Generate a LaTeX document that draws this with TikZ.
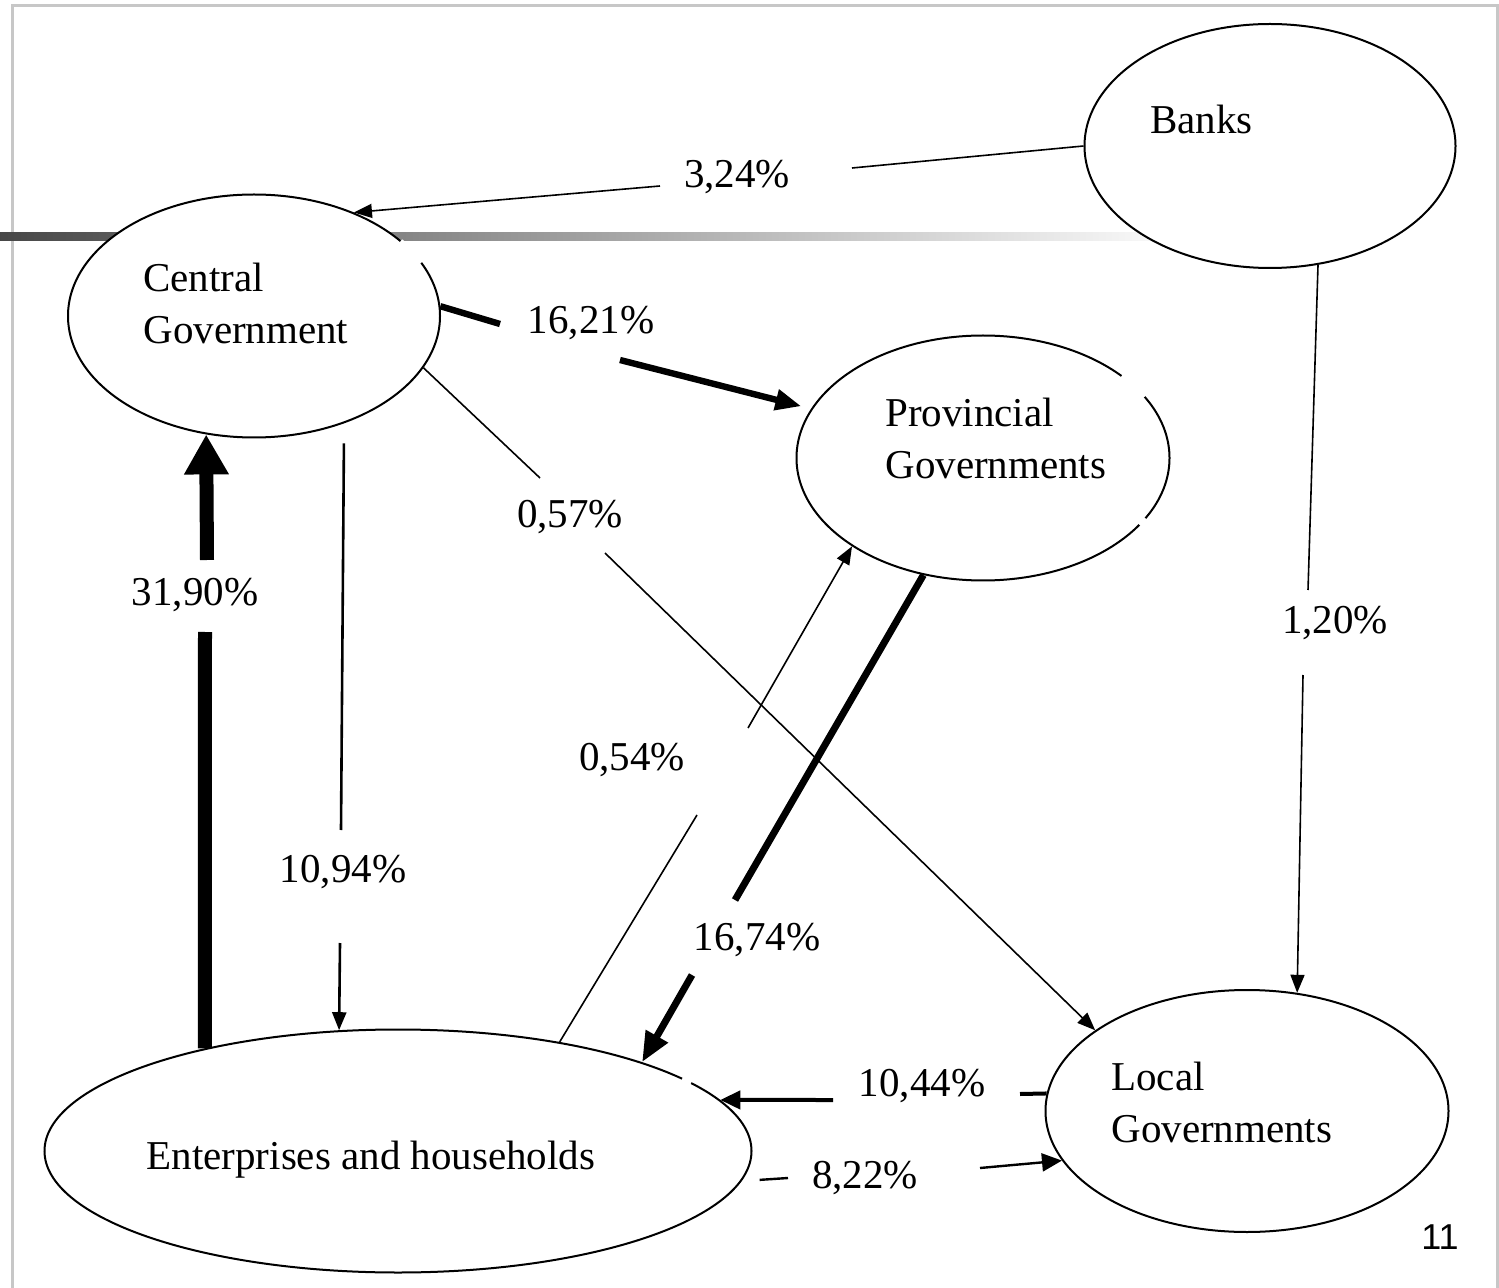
\documentclass[tikz,border=0pt]{standalone}
\usepackage{fontspec}
\setmainfont{Liberation Serif}
\newfontfamily\slidenumfont{Liberation Sans}
\usetikzlibrary{arrows.meta,shapes.geometric}

\begin{document}
\begin{tikzpicture}[x=0.5pt,y=-0.5pt,
  sector/.style={ellipse, draw, fill=white, line width=1pt, inner sep=0pt},
  sectortext/.style={font=\fontsize{20.5}{26}\selectfont, align=left, anchor=west, inner sep=0pt},
  pct/.style={font=\fontsize{20.5}{24}\selectfont, inner sep=0pt},
  ellgap/.style={white, line width=2.5pt}]
\useasboundingbox (0,0) rectangle (1499,1288);
\draw[black!22, line width=1.5pt] (12,6) rectangle (1497,1330);
\shade[left color=black!72, right color=black!3] (0,233) rectangle (1150,241);
\node[sector, minimum width=185.5pt, minimum height=122pt] (banks) at (1270,146) {};
\node[sector, minimum width=186pt, minimum height=121.5pt] (central) at (254,316) {};
\node[sector, minimum width=186.5pt, minimum height=122.5pt] (prov) at (983,458) {};
\node[sector, minimum width=353.5pt, minimum height=121.5pt] (ent) at (398,1151) {};
\node[sector, minimum width=201.5pt, minimum height=121pt] (local) at (1247,1111) {};
\draw[ellgap] (central.center) ++(26:93pt and 60.75pt) arc[start angle=26, end angle=38, x radius=93pt, y radius=60.75pt];
\draw[ellgap] (prov.center) ++(30:93.25pt and 61.25pt) arc[start angle=30, end angle=42, x radius=93.25pt, y radius=61.25pt];
\draw[ellgap] (prov.center) ++(-33:93.25pt and 61.25pt) arc[start angle=-33, end angle=-29.5, x radius=93.25pt, y radius=61.25pt];
\draw[ellgap] (ent.center) ++(34:176.75pt and 60.75pt) arc[start angle=34, end angle=36.5, x radius=176.75pt, y radius=60.75pt];
\node[sectortext] (banksname) at (1150,119) {Banks};
\node[sectortext] (centralname) at (143,303) {Central\\Government};
\node[sectortext] (provname) at (885,438) {Provincial\\Governments};
\node[sectortext] (localname) at (1111,1102) {Local\\Governments};
\node[sectortext, anchor=center] (entname) at (371,1160) {Enterprises and households};
\node[pct] (p324) at (737,177) {3,24\%};
\node[pct] (p1621) at (591,323) {16,21\%};
\node[pct] (p057) at (570,517) {0,57\%};
\node[pct] (p3190) at (195,595) {31,90\%};
\node[pct] (p1094) at (343,872) {10,94\%};
\node[pct] (p054) at (632,760) {0,54\%};
\node[pct] (p1674) at (757,940) {16,74\%};
\node[pct] (p120) at (1335,623) {1,20\%};
\node[pct] (p1044) at (922,1086) {10,44\%};
\node[pct] (p822) at (865,1178) {8,22\%};
\node[font=\slidenumfont\fontsize{18}{20}\selectfont] (slidenum) at (1440,1237) {11};
\coordinate (c324a) at (852,168);
\coordinate (c324b) at (660,186);
\coordinate (c1621a) at (500,324);
\coordinate (c1621b) at (620,360);
\coordinate (c057a) at (540,478);
\coordinate (c057b) at (605,553);
\coordinate (c3190a) at (205,632);
\coordinate (c3190b) at (207,560);
\coordinate (c1094a) at (341,830);
\coordinate (c1094b) at (340,943);
\coordinate (c054a) at (697,815);
\coordinate (c054b) at (748,728);
\coordinate (c1674a) at (735,900);
\coordinate (c1674b) at (692,975);
\coordinate (c120a) at (1308,590);
\coordinate (c120b) at (1303,675);
\coordinate (c1044a) at (1020,1094);
\coordinate (c1044b) at (833,1100);
\coordinate (c822a) at (788,1178);
\coordinate (c822b) at (980,1168);
\draw[line width=0.8pt] (banks.west) -- (c324a);
\draw[line width=0.8pt, -{Triangle[length=9pt,width=7pt]}] (c324b) -- (central.46);
\draw[line width=3.2pt] (central.3) -- (c1621a);
\draw[line width=3.2pt, -{Triangle[length=13pt,width=10pt]}, shorten >=5pt] (c1621b) -- (prov.164);
\draw[line width=0.8pt] (central.-17) -- (c057a);
\draw[line width=0.8pt, -{Triangle[length=9pt,width=7pt]}] (c057b) -- (local.152);
\draw[line width=7pt] (ent.152) -- (c3190a);
\draw[line width=7pt, -{Triangle[length=20pt,width=21pt]}] (c3190b) -- (central.-112);
\draw[line width=1.3pt, shorten <=10pt] (central.-50) -- (c1094a);
\draw[line width=1.3pt, -{Triangle[length=9pt,width=7pt]}] (c1094b) -- (ent.116);
\draw[line width=0.8pt] (ent.34) -- (c054a);
\draw[line width=0.8pt, -{Triangle[length=9pt,width=7pt]}] (c054b) -- (prov.-146);
\draw[line width=3.5pt] (prov.-117) -- (c1674a);
\draw[line width=3.5pt, -{Triangle[length=15pt,width=12pt]}] (c1674b) -- (ent.20);
\draw[line width=0.8pt] (banks.-68) -- (c120a);
\draw[line width=0.8pt, -{Triangle[length=9pt,width=7pt]}] (c120b) -- (local.67);
\draw[line width=2pt] (local.175) -- (c1044a);
\draw[line width=2pt, -{Triangle[length=10pt,width=9pt]}] (c1044b) -- (ent.9);
\draw[line width=1.2pt, shorten <=9pt] (ent.-5) -- (c822a);
\draw[line width=1.2pt, -{Triangle[length=10pt,width=9pt]}] (c822b) -- (local.-165);
\end{tikzpicture}
\end{document}
